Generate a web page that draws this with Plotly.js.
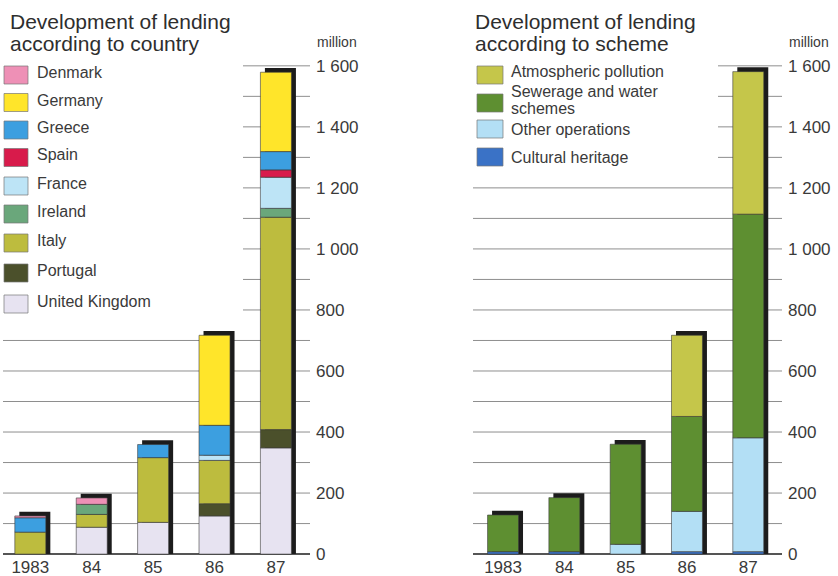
<!DOCTYPE html>
<html>
<head>
<meta charset="utf-8">
<script src="https://cdn.plot.ly/plotly-3.0.1.min.js"></script>
<style>html,body{margin:0;padding:0;background:#fff;}#chart{width:838px;height:576px;}</style>
</head>
<body>
<div id="chart"></div>
<script>
// ---------- DATA ----------
const years = ['1983', '84', '85', '86', '87'];

// Left chart: lending by country (stack order bottom -> top)
const countryNames = ['United Kingdom', 'Portugal', 'Italy', 'Ireland', 'France', 'Spain', 'Greece', 'Germany', 'Denmark'];
const ukVals       = [0,   88, 104, 125, 348];
const portugalVals = [0,    0,   0,  40,  60];
const italyVals    = [72,  42, 212, 142, 696];
const irelandVals  = [0,   33,   0,   0,  29];
const franceVals   = [0,    0,   0,  17, 102];
const spainVals    = [0,    0,   0,   0,  24];
const greeceVals   = [47,   0,  43,  98,  60];
const germanyVals  = [0,    0,   0, 295, 260];
const denmarkVals  = [6,   21,   0,   0,   0];
const countryColors = ['#e7e3f1', '#4b502b', '#bdbc3e', '#6aa77b', '#bde4f6', '#d81b4b', '#3c9fe0', '#ffe52a', '#ee90b6'];
// legend order (top -> bottom as printed)
const countryLegend = ['Denmark', 'Germany', 'Greece', 'Spain', 'France', 'Ireland', 'Italy', 'Portugal', 'United Kingdom'];

// Right chart: lending by scheme (stack order bottom -> top)
const schemeNames = ['Cultural heritage', 'Other operations', 'Sewerage and water schemes', 'Atmospheric pollution'];
const culturalVals  = [8,   8,   0,   8,   8];
const otherVals     = [0,   0,  32, 132, 373];
const sewerageVals  = [120, 177, 328, 311, 733];
const atmosVals     = [0,   0,   0, 266, 467];
const schemeColors = ['#3a72c6', '#b3dff5', '#5e8f31', '#c5c64a'];
const schemeLegend = ['Atmospheric pollution', 'Sewerage and water|schemes', 'Other operations', 'Cultural heritage'];

const yTickVals = [0,100,200,300,400,500,600,700,800,900,1000,1100,1200,1300,1400,1500,1600];

// ---------- LAYOUT HELPERS ----------
const W = 838, H = 576, MT = 64, MB = 21;
const PH = H - MT - MB;
const YR = [-3, 1606];
const pxPerUnit = PH / (YR[1] - YR[0]);
const px = p => p / W;
const py = p => (H - MB - p) / PH;
const FONT = 'Liberation Sans, Arial, sans-serif';
const TXT = '#3a3a3a';

const BW = 0.505;             // bar width in category units
const shadowDxPx = 4.5, shadowDyPx = 4.3;

function fmt(v) {
  if (v % 200 !== 0) return '';
  if (v >= 1000) return Math.floor(v / 1000) + ' ' + String(v % 1000).padStart(3, '0');
  return String(v);
}

function stackTraces(seriesList, colors, names, xa, ya, pxPerCat) {
  const traces = [];
  const totals = years.map((_, j) => seriesList.reduce((s, ser) => s + ser[j], 0));
  traces.push({
    type: 'bar', x: years, y: totals.map(t => t + shadowDyPx / pxPerUnit), base: years.map(() => 0),
    offset: -BW / 2 + shadowDxPx / pxPerCat, width: BW,
    marker: {color: '#1c1c1c', line: {width: 0}},
    xaxis: xa, yaxis: ya, hoverinfo: 'skip', showlegend: false
  });
  const cum = years.map(() => 0);
  seriesList.forEach((ser, i) => {
    traces.push({
      type: 'bar', name: names[i], x: years,
      y: ser.map(v => v > 0 ? v : null),
      base: cum.slice(),
      offset: -BW / 2, width: BW,
      marker: {color: colors[i], line: {color: '#3d3d3d', width: 0.6}},
      xaxis: xa, yaxis: ya, showlegend: false
    });
    ser.forEach((v, j) => cum[j] += v);
  });
  return traces;
}

const leftSeries = [ukVals, portugalVals, italyVals, irelandVals, franceVals, spainVals, greeceVals, germanyVals, denmarkVals];
const rightSeries = [culturalVals, otherVals, sewerageVals, atmosVals];

const L0 = 3, L1 = 310, R0 = 473, R1 = 782;
const xRangeL = [-0.445, 4.555], xRangeR = [-0.49, 4.55];
const pxPerCatL = (L1 - L0) / (xRangeL[1] - xRangeL[0]);
const pxPerCatR = (R1 - R0) / (xRangeR[1] - xRangeR[0]);

const data = [].concat(
  stackTraces(leftSeries, countryColors, countryNames, 'x', 'y', pxPerCatL),
  stackTraces(rightSeries, schemeColors, schemeNames, 'x2', 'y2', pxPerCatR)
);

function xax(dom, rng, anchor) {
  return {domain: dom, range: rng, type: 'category', anchor: anchor,
    showgrid: false, zeroline: false, showline: false, ticks: '',
    tickfont: {family: FONT, size: 17, color: TXT}, fixedrange: true};
}
function yax(anchor) {
  return {range: YR, anchor: anchor, side: 'right', domain: [0, 1],
    tickmode: 'array', tickvals: yTickVals, ticktext: yTickVals.map(fmt),
    showgrid: false,
    zeroline: true, zerolinecolor: '#555', zerolinewidth: 1.4,
    showline: false, ticks: '', ticklabelstandoff: 5,
    tickfont: {family: FONT, size: 17, color: TXT}, fixedrange: true};
}

const shapes = [];
const annotations = [];

// gridlines (shortened where the legends sit)
yTickVals.filter(v => v > 0).forEach(v => {
  shapes.push({type: 'line', layer: 'below', xref: 'x domain', yref: 'y',
    x0: v >= 750 ? (243 - L0) / (L1 - L0) : 0, x1: 1, y0: v, y1: v, line: {color: '#8e8e8e', width: 1}});
  shapes.push({type: 'line', layer: 'below', xref: 'x2 domain', yref: 'y2',
    x0: v >= 1250 ? (718 - R0) / (R1 - R0) : 0, x1: 1, y0: v, y1: v, line: {color: '#8e8e8e', width: 1}});
});

// left legend
const legL = [75, 102.5, 130, 157.5, 186, 214, 243, 273, 304];
countryLegend.forEach((nm, k) => {
  const idx = countryNames.indexOf(nm);
  const c = legL[k];
  shapes.push({type: 'rect', xref: 'paper', yref: 'paper', x0: px(4), x1: px(28), y0: py(c + 9), y1: py(c - 9),
    fillcolor: countryColors[idx], line: {color: '#777', width: 0.7}});
  annotations.push({xref: 'paper', yref: 'paper', x: px(35), y: py(c - 2.5), xanchor: 'left', yanchor: 'middle',
    text: nm, showarrow: false, font: {family: FONT, size: 16, color: TXT}});
});

// right legend
const legR = [75, 103, 129, 157];
const legRText = [[71.5], [91, 108], [129], [157]];
schemeLegend.forEach((nm, k) => {
  const idx = schemeNames.indexOf(nm.replace('|', ' '));
  const c = legR[k];
  shapes.push({type: 'rect', xref: 'paper', yref: 'paper', x0: px(477), x1: px(503), y0: py(c + 9), y1: py(c - 9),
    fillcolor: schemeColors[idx], line: {color: '#777', width: 0.7}});
  nm.split('|').forEach((part, p) => {
    annotations.push({xref: 'paper', yref: 'paper', x: px(509), y: py(legRText[k][p]), xanchor: 'left', yanchor: 'middle',
      text: part, showarrow: false, font: {family: FONT, size: 16, color: TXT}});
  });
});

// titles
[[8, 'Development of lending', 'according to country'], [473, 'Development of lending', 'according to scheme']].forEach(t => {
  annotations.push({xref: 'paper', yref: 'paper', x: px(t[0]), y: py(21), xanchor: 'left', yanchor: 'middle',
    text: t[1], showarrow: false, font: {family: FONT, size: 21, color: '#2e2e2e'}});
  annotations.push({xref: 'paper', yref: 'paper', x: px(t[0]), y: py(43), xanchor: 'left', yanchor: 'middle',
    text: t[2], showarrow: false, font: {family: FONT, size: 21, color: '#2e2e2e'}});
});
// unit labels
[315, 787].forEach(x0 => {
  annotations.push({xref: 'paper', yref: 'paper', x: px(x0), y: py(42), xanchor: 'left', yanchor: 'middle',
    text: 'million', showarrow: false, font: {family: FONT, size: 14, color: TXT}});
});

const layout = {
  width: W, height: H,
  margin: {l: 0, r: 0, t: MT, b: MB, pad: 0},
  paper_bgcolor: '#fff', plot_bgcolor: 'rgba(0,0,0,0)',
  barmode: 'overlay', showlegend: false,
  xaxis: xax([L0 / W, L1 / W], xRangeL, 'y'),
  yaxis: yax('x'),
  xaxis2: xax([R0 / W, R1 / W], xRangeR, 'y2'),
  yaxis2: yax('x2'),
  shapes: shapes, annotations: annotations,
  font: {family: FONT, color: TXT}
};

Plotly.newPlot('chart', data, layout, {staticPlot: true, displayModeBar: false});
</script>
</body>
</html>
